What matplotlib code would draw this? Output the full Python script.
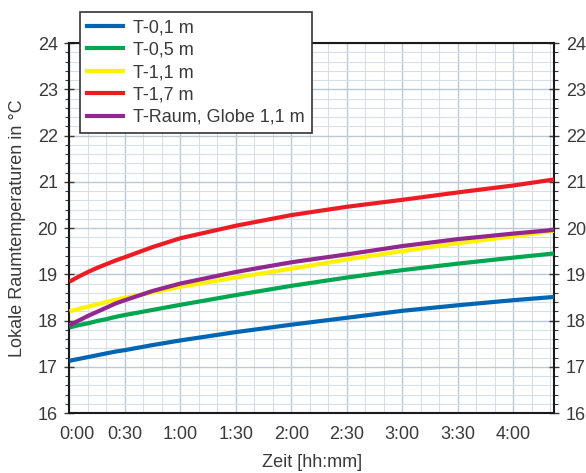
import matplotlib.pyplot as plt
from matplotlib.lines import Line2D
from matplotlib.ticker import MultipleLocator
from matplotlib.transforms import ScaledTranslation

plt.rcParams.update({
    "font.family": ["Liberation Sans", "DejaVu Sans"],
    "font.size": 13,
    "text.color": "#3a3a3a",
    "axes.labelcolor": "#3a3a3a",
    "xtick.color": "#3a3a3a",
    "ytick.color": "#3a3a3a",
})

# time in minutes after start
TIME = [0, 5, 10, 15, 20, 25, 30, 45, 60, 90, 120, 150, 180, 210, 240, 262]

T_01 = [17.13, 17.17, 17.21, 17.25, 17.29, 17.33, 17.36, 17.47, 17.57, 17.75, 17.91, 18.06, 18.21, 18.33, 18.44, 18.51]
T_05 = [17.85, 17.90, 17.94, 17.99, 18.03, 18.08, 18.12, 18.23, 18.34, 18.55, 18.75, 18.93, 19.09, 19.23, 19.36, 19.45]
T_11 = [18.20, 18.25, 18.30, 18.35, 18.40, 18.45, 18.49, 18.61, 18.73, 18.93, 19.12, 19.32, 19.50, 19.67, 19.82, 19.94]
T_17 = [18.84, 18.95, 19.05, 19.14, 19.22, 19.30, 19.37, 19.59, 19.78, 20.05, 20.28, 20.46, 20.61, 20.77, 20.92, 21.05]
T_GLOBE = [17.90, 18.00, 18.10, 18.19, 18.28, 18.37, 18.44, 18.64, 18.80, 19.05, 19.26, 19.43, 19.61, 19.76, 19.88, 19.96]

SERIES = [
    ("T-0,1 m", T_01, "#0066b3"),
    ("T-0,5 m", T_05, "#00a650"),
    ("T-1,1 m", T_11, "#fff200"),
    ("T-1,7 m", T_17, "#ed1c24"),
    ("T-Raum, Globe 1,1 m", T_GLOBE, "#92278f"),
]

XTICKS = [0, 30, 60, 90, 120, 150, 180, 210, 240]
XTICK_LABELS = ["0:00", "0:30", "1:00", "1:30", "2:00", "2:30", "3:00", "3:30", "4:00"]

fig = plt.figure(figsize=(5.86, 4.73), dpi=100)
ax = fig.add_axes([0.1186, 0.1268, 0.8268, 0.7822])

# draw order: yellow under purple, as in the original
for name, vals, color in [SERIES[0], SERIES[1], SERIES[3], SERIES[2], SERIES[4]]:
    ax.plot(TIME, vals, color=color, lw=3.0, solid_capstyle="butt",
            solid_joinstyle="round", zorder=3)

ax.set_xlim(0, 262)
ax.set_ylim(16, 24)

ax.set_xticks(XTICKS)
ax.set_xticklabels(XTICK_LABELS)
ax.xaxis.set_minor_locator(MultipleLocator(10))
ax.yaxis.set_major_locator(MultipleLocator(1))
ax.yaxis.set_minor_locator(MultipleLocator(0.2))

ax.grid(True, which="minor", color="#d6dee6", lw=0.8, zorder=0)
ax.grid(True, which="major", color="#bcc8d3", lw=1.0, zorder=0)
ax.set_axisbelow(True)

ax.tick_params(axis="x", which="both", length=0, pad=9)
ax.tick_params(axis="y", which="major", direction="inout", length=7, width=1.0,
               left=True, right=True, labelleft=True, labelright=True, pad=5)
ax.tick_params(axis="y", which="minor", direction="out", length=3, width=0.8,
               left=True, right=True)

# first time label sits slightly to the right in the original
first = ax.get_xticklabels()[0]
first.set_transform(first.get_transform() + ScaledTranslation(7 / 100, 0, fig.dpi_scale_trans))

for sp in ax.spines.values():
    sp.set_color("#1a1a1a")
    sp.set_linewidth(1.5)

ax.set_xlabel("Zeit [hh:mm]", labelpad=8)
ax.set_ylabel("Lokale Raumtemperaturen in °C", labelpad=8)

handles = [Line2D([], [], color=c, lw=3.0, label=n) for n, _, c in SERIES]
leg = fig.legend(handles=handles, loc="upper left", bbox_to_anchor=(0.1365, 0.9746),
                 borderaxespad=0, frameon=True, fancybox=False, handlelength=2.0,
                 handletextpad=0.55, labelspacing=0.3, borderpad=0.4, fontsize=13)
leg.get_frame().set_edgecolor("#333333")
leg.get_frame().set_linewidth(1.2)
leg.get_frame().set_facecolor("white")
leg.get_frame().set_alpha(1)

fig.savefig("out.png", dpi=100)
